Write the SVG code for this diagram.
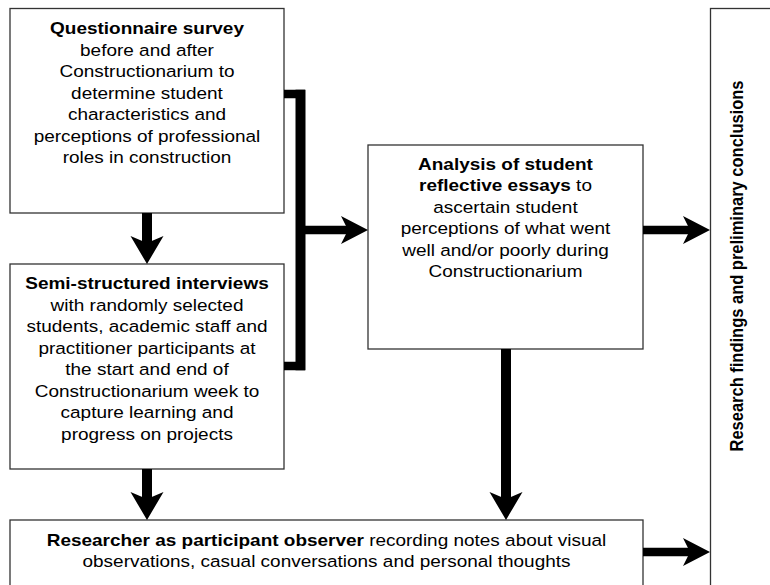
<svg xmlns="http://www.w3.org/2000/svg" width="770" height="585" viewBox="0 0 770 585">
<style>
.box { fill: #fff; stroke: #333; stroke-width: 1.3; }
.t { font-family: "Liberation Sans", Arial, Helvetica, sans-serif; font-size: 16.5px; text-anchor: middle; fill: #000; }
.b { font-weight: bold; }
.v { fill: none; stroke: #000; stroke-width: 10; }
.h { fill: none; stroke: #000; stroke-width: 8.5; }
</style>
<defs>
<marker id="ahV" markerUnits="userSpaceOnUse" orient="auto" markerWidth="30" markerHeight="36" viewBox="0 -18 30 36" refX="10" refY="0">
<path d="M0,-16.5 L28,0 L0,16.5 L7,0 Z" fill="#000"/>
</marker>
<marker id="ahH" markerUnits="userSpaceOnUse" orient="auto" markerWidth="30" markerHeight="32" viewBox="0 -16 30 32" refX="10" refY="0">
<path d="M0,-14 L27,0 L0,14 L7,0 Z" fill="#000"/>
</marker>
</defs>

<g id="questionnaire">
<rect class="box" x="10" y="8.5" width="274" height="204.5"/>
<g transform="translate(147 0) scale(1.15 1)">
<text class="t"><tspan class="b" x="0" y="34.5">Questionnaire survey</tspan><tspan x="0" y="56">before and after</tspan><tspan x="0" y="77.5">Constructionarium to</tspan><tspan x="0" y="99">determine student</tspan><tspan x="0" y="120.5">characteristics and</tspan><tspan x="0" y="142">perceptions of professional</tspan><tspan x="0" y="163.5">roles in construction</tspan></text>
</g>
</g>

<g id="interviews">
<rect class="box" x="10" y="264" width="274" height="205"/>
<g transform="translate(147 0) scale(1.15 1)">
<text class="t"><tspan class="b" x="0" y="289.5">Semi-structured interviews</tspan><tspan x="0" y="311">with randomly selected</tspan><tspan x="0" y="332.5">students, academic staff and</tspan><tspan x="0" y="354">practitioner participants at</tspan><tspan x="0" y="375.5">the start and end of</tspan><tspan x="0" y="397">Constructionarium week to</tspan><tspan x="0" y="418.5">capture learning and</tspan><tspan x="0" y="440">progress on projects</tspan></text>
</g>
</g>

<g id="essays">
<rect class="box" x="368" y="145" width="275" height="204"/>
<g transform="translate(505.5 0) scale(1.15 1)">
<text class="t"><tspan class="b" x="0" y="170">Analysis of student</tspan><tspan x="0" y="191.5"><tspan class="b">reflective essays</tspan> to</tspan><tspan x="0" y="213">ascertain student</tspan><tspan x="0" y="234.5">perceptions of what went</tspan><tspan x="0" y="256">well and/or poorly during</tspan><tspan x="0" y="277.5">Constructionarium</tspan></text>
</g>
</g>

<g id="observer">
<rect class="box" x="10" y="520" width="633" height="80"/>
<g transform="translate(326.5 0) scale(1.15 1)">
<text class="t"><tspan x="0" y="546"><tspan class="b">Researcher as participant observer</tspan> recording notes about visual</tspan><tspan x="0" y="567.5">observations, casual conversations and personal thoughts</tspan></text>
</g>
</g>

<g id="findings">
<rect class="box" x="710.5" y="8.5" width="80" height="600"/>
<g transform="translate(743 266) scale(1.15 1) rotate(-90)">
<text class="t b" x="0" y="0">Research findings and preliminary conclusions</text>
</g>
</g>

<g id="connectors">
<line class="v" x1="147" y1="213" x2="147" y2="246" marker-end="url(#ahV)"/>
<line class="v" x1="147" y1="469" x2="147" y2="502" marker-end="url(#ahV)"/>
<line class="v" x1="506" y1="349" x2="506" y2="502" marker-end="url(#ahV)"/>
<path class="h" d="M284,94 H305 M284,366 H305"/>
<line class="v" x1="300.5" y1="89.75" x2="300.5" y2="370.25"/>
<line class="h" x1="300" y1="230" x2="351" y2="230" marker-end="url(#ahH)"/>
<line class="h" x1="643" y1="230" x2="693" y2="230" marker-end="url(#ahH)"/>
<line class="h" x1="643" y1="552" x2="693" y2="552" marker-end="url(#ahH)"/>
</g>
</svg>
